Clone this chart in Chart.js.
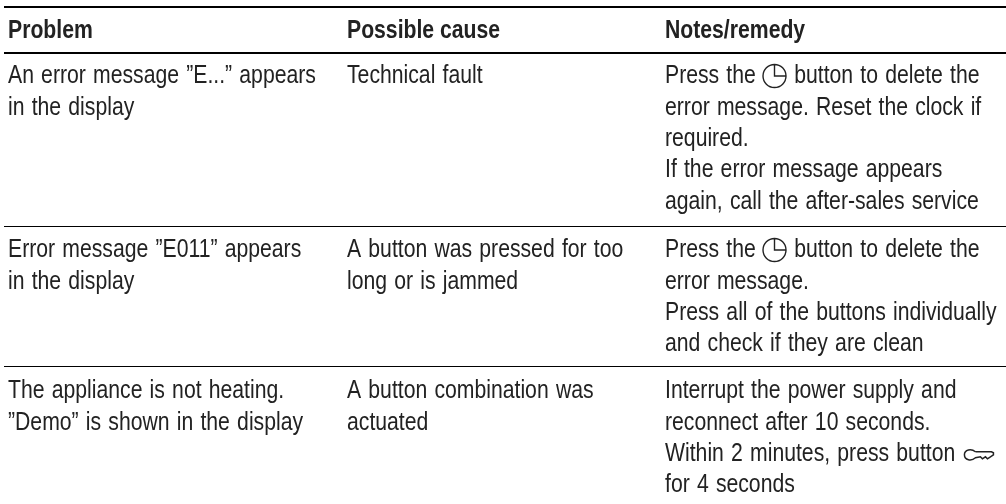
<!DOCTYPE html>
<html>
<head>
<meta charset="utf-8">
<style>
  html, body { margin: 0; padding: 0; background: #fff; overflow: hidden; }
  canvas { display: block; }
</style>
<script src="https://cdn.jsdelivr.net/npm/chart.js@4"></script>
</head>
<body>
<canvas id="table" width="1006" height="504"></canvas>
<script>
// table content
const headers = ["Problem", "Possible cause", "Notes/remedy"];
const problems = [
  ['An error message \u201dE...\u201d appears', "in the display"],
  ['Error message \u201dE011\u201d appears', "in the display"],
  ["The appliance is not heating.", '\u201dDemo\u201d is shown in the display']
];
const causes = [
  ["Technical fault"],
  ["A button was pressed for too", "long or is jammed"],
  ["A button combination was", "actuated"]
];
const remedies = [
  ["Press the {clock} button to delete the", "error message. Reset the clock if", "required.", "If the error message appears", "again, call the after-sales service"],
  ["Press the {clock} button to delete the", "error message.", "Press all of the buttons individually", "and check if they are clean"],
  ["Interrupt the power supply and", "reconnect after 10 seconds.", "Within 2 minutes, press button {key}", "for 4 seconds"]
];
// horizontal rules of the table, on the y axis
const ruleValues = [6.5, 52.5, 226.5, 366.5];
const ruleWidths = [2, 2, 1, 1];

const columnX = [8, 347, 665];
const headerY = 31;
const rowTop = [76, 250, 391];
const linePitch = 31.4;
const bodyFont = "26px 'Liberation Sans'";
const headFont = "bold 26px 'Liberation Sans'";
const narrow = 0.815;
const inkColor = "#222";

function drawClock(ctx, x, y) {
  const r = 11.5;
  ctx.save();
  ctx.strokeStyle = inkColor;
  ctx.lineWidth = 1.4;
  ctx.beginPath();
  ctx.arc(x + r, y, r, 0, Math.PI * 2);
  ctx.moveTo(x + r, y - r);
  ctx.lineTo(x + r, y);
  ctx.lineTo(x + 2 * r, y);
  ctx.stroke();
  ctx.restore();
  return 2 * r + 1;
}

function drawKey(ctx, x, y) {
  ctx.save();
  ctx.strokeStyle = inkColor;
  ctx.lineWidth = 1.5;
  ctx.beginPath();
  // bow of the key, then the blade with its teeth
  ctx.moveTo(x + 12, y - 3);
  ctx.bezierCurveTo(x + 8, y - 6.5, x + 1, y - 5.5, x + 1, y);
  ctx.bezierCurveTo(x + 1, y + 5.5, x + 8, y + 6.5, x + 12, y + 3);
  ctx.lineTo(x + 17, y + 2);
  ctx.lineTo(x + 19, y + 4);
  ctx.lineTo(x + 22, y + 2);
  ctx.lineTo(x + 24, y + 4);
  ctx.lineTo(x + 27, y + 2);
  ctx.lineTo(x + 30, y);
  ctx.lineTo(x + 30, y - 2);
  ctx.lineTo(x + 28, y - 3);
  ctx.lineTo(x + 12, y - 3);
  ctx.stroke();
  ctx.restore();
  return 30;
}

function narrowText(ctx, text, x, y) {
  ctx.save();
  ctx.translate(x, y);
  ctx.scale(narrow, 1);
  ctx.fillText(text, 0, 0);
  ctx.restore();
  return ctx.measureText(text).width * narrow;
}

// draws one line of text, with the little symbols inlined
function drawLine(ctx, text, x, y) {
  const parts = text.split(/(\{clock\}|\{key\})/);
  let cx = x;
  parts.forEach(part => {
    if (part === "{clock}") {
      cx += drawClock(ctx, cx, y);
    } else if (part === "{key}") {
      cx += drawKey(ctx, cx + 1, y + 1);
    } else {
      cx += narrowText(ctx, part, cx, y);
    }
  });
}

const tableText = {
  id: "tableText",
  afterDraw(chart) {
    const { ctx, scales } = chart;
    ctx.save();
    ctx.fillStyle = inkColor;
    ctx.textBaseline = "middle";
    ctx.font = headFont;
    headers.forEach((h, i) => {
      narrowText(ctx, h, scales.x.getPixelForValue(columnX[i]), scales.y.getPixelForValue(headerY));
    });
    ctx.font = bodyFont;
    ctx.wordSpacing = "1.6px";
    [problems, causes, remedies].forEach((col, c) => {
      col.forEach((lines, r) => {
        lines.forEach((line, l) => {
          drawLine(ctx, line, scales.x.getPixelForValue(columnX[c]), scales.y.getPixelForValue(rowTop[r] + l * linePitch));
        });
      });
    });
    ctx.restore();
  }
};

new Chart(document.getElementById("table"), {
  type: "scatter",
  data: { datasets: [{ data: [], pointRadius: 0 }] },
  options: {
    responsive: false,
    animation: false,
    layout: { padding: { left: 4 } },
    plugins: { legend: { display: false }, tooltip: { enabled: false } },
    scales: {
      x: { min: 4, max: 1006, display: false },
      y: {
        min: 0, max: 504, reverse: true,
        afterBuildTicks(axis) { axis.ticks = ruleValues.map(v => ({ value: v })); },
        border: { display: false },
        ticks: { display: false },
        grid: {
          color: "#000",
          drawTicks: false,
          lineWidth: c => ruleWidths[c.index]
        }
      }
    }
  },
  plugins: [tableText]
});
</script>
</body>
</html>
